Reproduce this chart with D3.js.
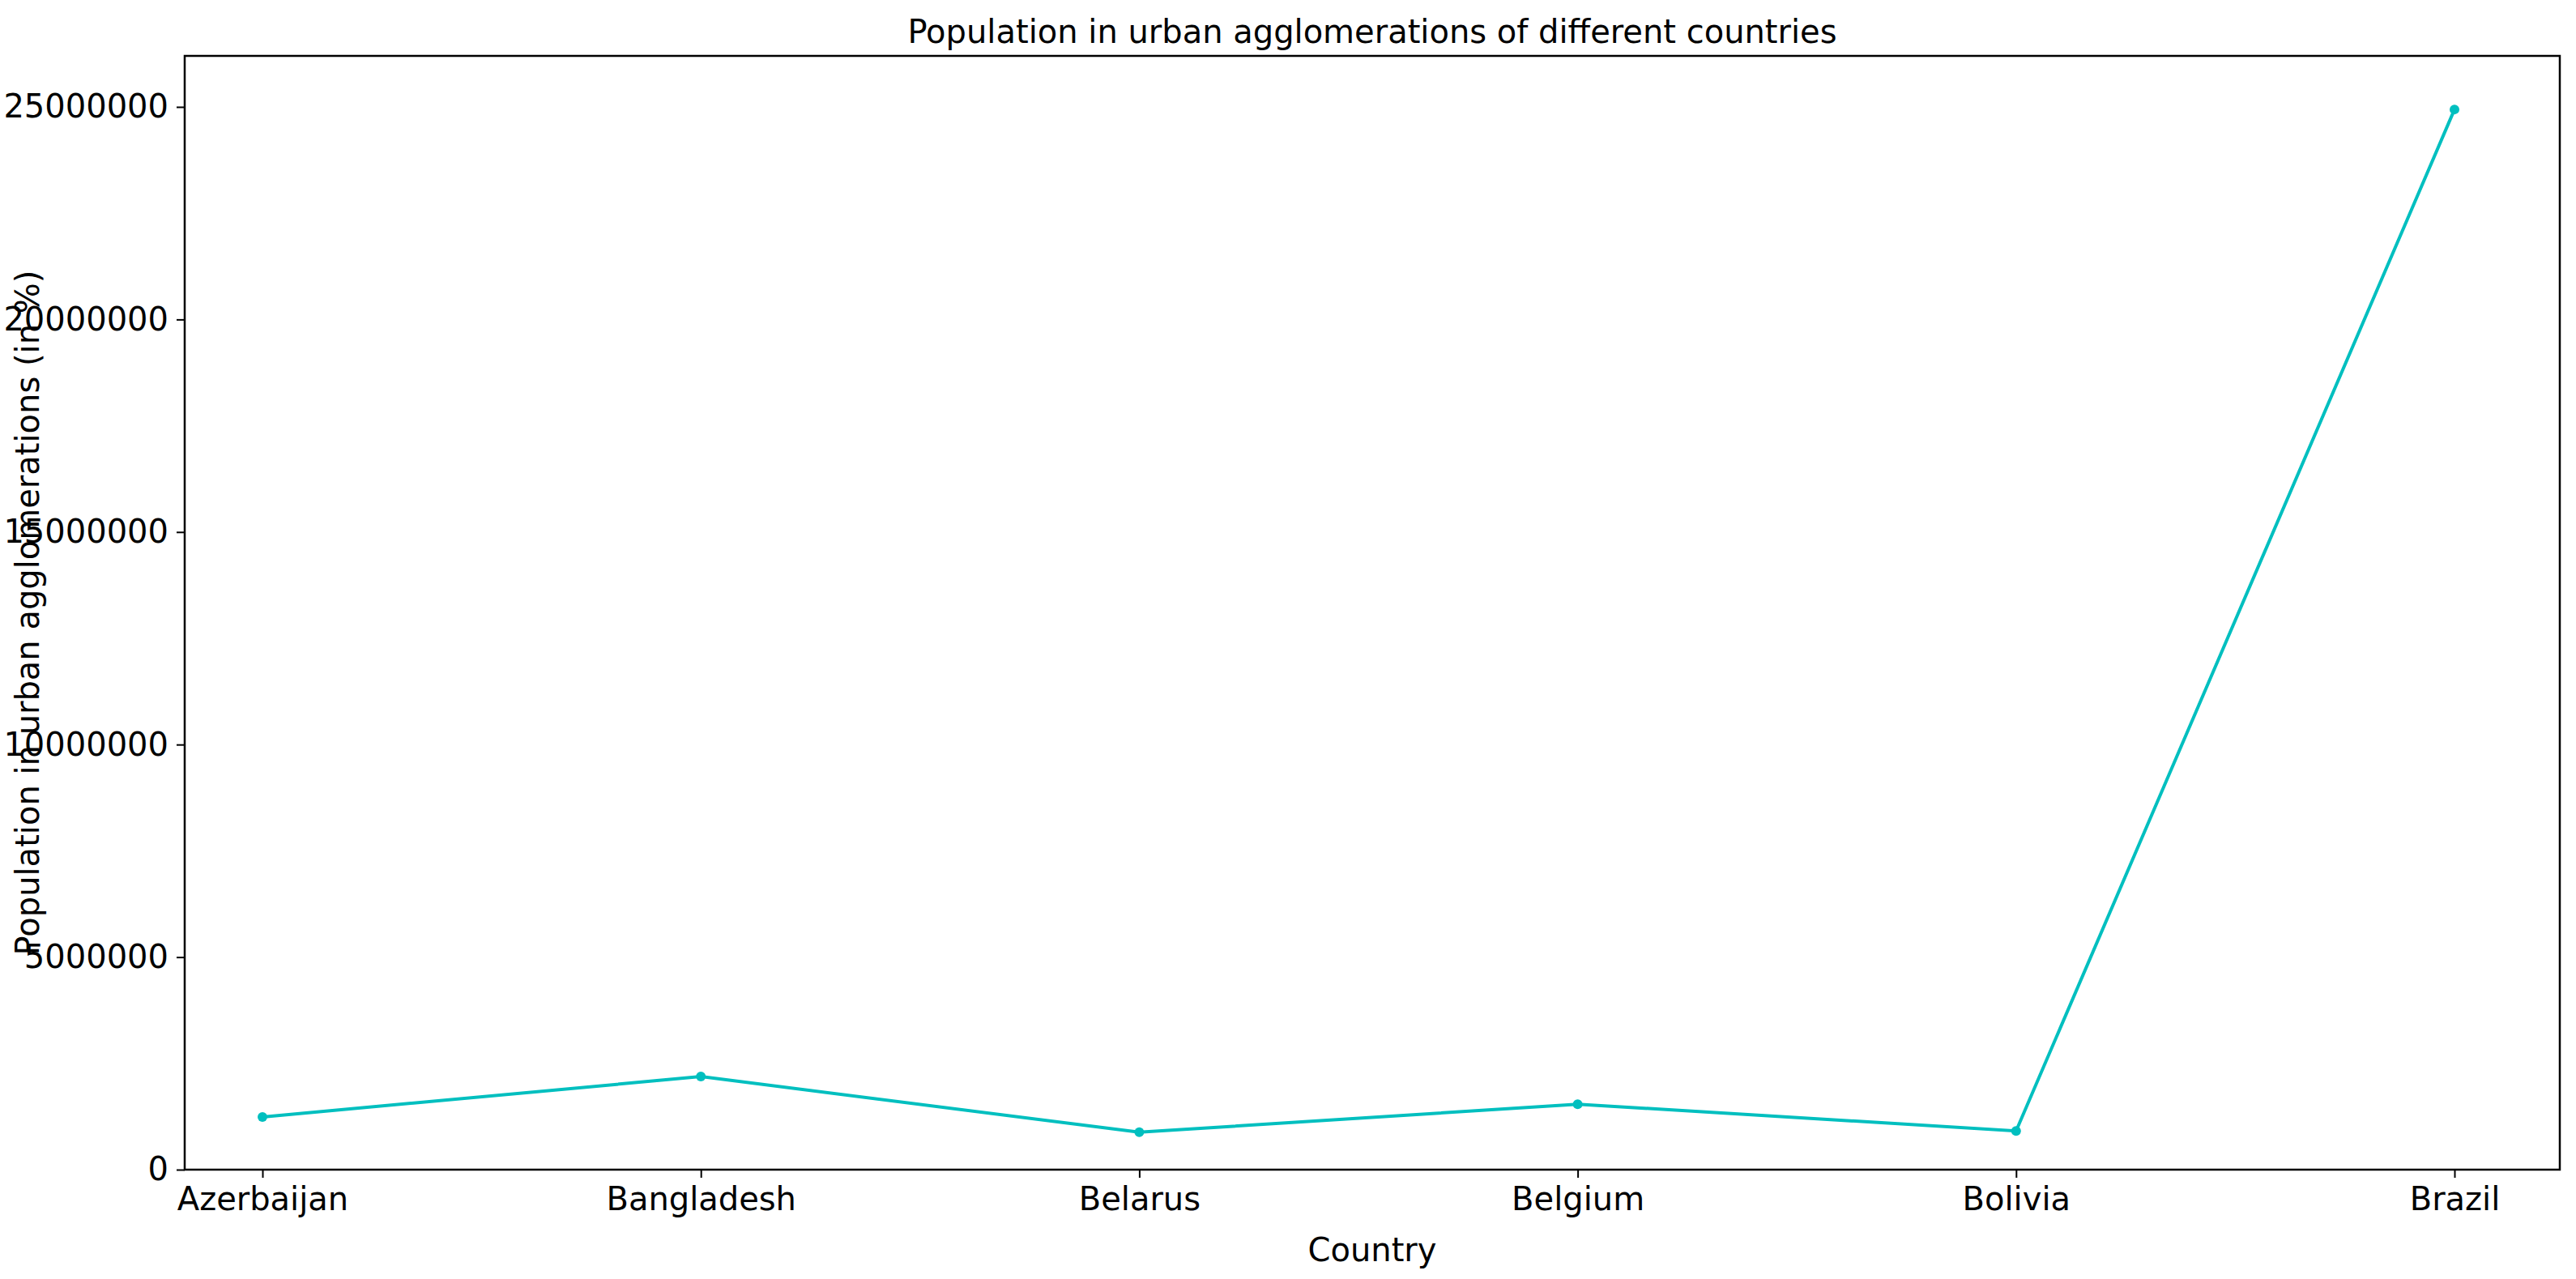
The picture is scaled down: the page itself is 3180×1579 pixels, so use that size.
<!DOCTYPE html>
<html>
<head>
<meta charset="utf-8">
<script src="https://cdn.jsdelivr.net/npm/d3@7"></script>
<style>
  body { margin: 0; background: #fff; }
  text { font-family: "DejaVu Sans", sans-serif; }
</style>
</head>
<body>
<svg id="chart"></svg>
<script>
const countries = ["Azerbaijan", "Bangladesh", "Belarus", "Belgium", "Bolivia", "Brazil"];
const population = [1240000, 2190000, 880000, 1540000, 910000, 24940000];
const yTicks = [0, 5000000, 10000000, 15000000, 20000000, 25000000];

const W = 3180, H = 1579;
const margin = {top: 69, right: 20, bottom: 135, left: 228};
const width = W - margin.left - margin.right,
      height = H - margin.top - margin.bottom;

const svg = d3.select("#chart")
    .attr("width", W)
    .attr("height", H)
  .append("g")
    .attr("transform", `translate(${margin.left},${margin.top})`);

const x = d3.scalePoint()
    .domain(countries)
    .range([96, width - 130]);

const y = d3.scaleLinear()
    .domain([0, 26200000])
    .range([height, 0]);

const line = d3.line()
    .x((d, i) => x(countries[i]))
    .y(d => y(d));

svg.append("path")
    .datum(population)
    .attr("fill", "none")
    .attr("stroke", "#00bfbf")
    .attr("stroke-width", 4)
    .attr("d", line);

svg.selectAll("circle")
    .data(population)
  .enter().append("circle")
    .attr("cx", (d, i) => x(countries[i]))
    .attr("cy", d => y(d))
    .attr("r", 6)
    .attr("fill", "#00bfbf");

// X Axis
const xAxis = svg.append("g")
    .attr("transform", `translate(0,${height})`)
    .call(d3.axisBottom(x).tickSizeOuter(0).tickSize(10).tickPadding(12));

// Y Axis
const yAxis = svg.append("g")
    .call(d3.axisLeft(y).tickValues(yTicks).tickFormat(d3.format("d")).tickSizeOuter(0).tickSize(10).tickPadding(10));

[xAxis, yAxis].forEach(a => {
    a.selectAll("text").attr("font-size", 40).attr("fill", "#000");
    a.selectAll("line").attr("stroke", "#000").attr("stroke-width", 2);
    a.select(".domain").remove();
});

// frame
svg.append("rect")
    .attr("width", width)
    .attr("height", height)
    .attr("fill", "none")
    .attr("stroke", "#000")
    .attr("stroke-width", 2.5);

svg.append("text")
    .attr("x", width / 2)
    .attr("y", -16)
    .attr("text-anchor", "middle")
    .attr("font-size", 40)
    .text("Population in urban agglomerations of different countries");

svg.append("text")
    .attr("x", width / 2)
    .attr("y", height + 113)
    .attr("text-anchor", "middle")
    .attr("font-size", 40)
    .text("Country");

svg.append("text")
    .attr("transform", `translate(${-180},${height / 2}) rotate(-90)`)
    .attr("text-anchor", "middle")
    .attr("font-size", 40)
    .text("Population in urban agglomerations (in %)");
</script>
</body>
</html>
